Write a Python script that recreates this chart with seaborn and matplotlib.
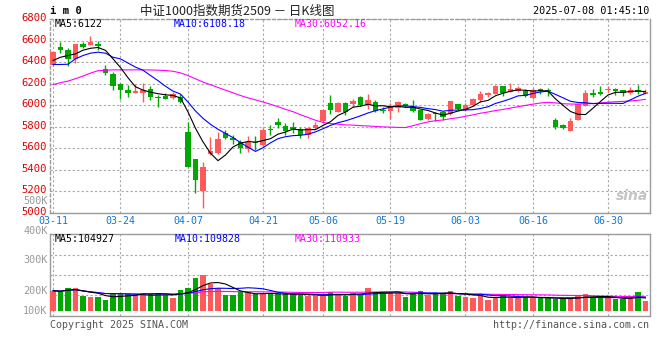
import numpy as np
import pandas as pd
import matplotlib
matplotlib.use("Agg")
import matplotlib.pyplot as plt
import matplotlib.transforms as mtransforms
import seaborn as sns

# ---------------- data ----------------
dates = ["03-11", "03-12", "03-13", "03-14", "03-17", "03-18", "03-19", "03-20", "03-21", "03-24",
         "03-25", "03-26", "03-27", "03-28", "03-31", "04-01", "04-02", "04-03", "04-07", "04-08",
         "04-09", "04-10", "04-11", "04-14", "04-15", "04-16", "04-17", "04-18", "04-21", "04-22",
         "04-23", "04-24", "04-25", "04-28", "04-29", "04-30", "05-06", "05-07", "05-08", "05-09",
         "05-12", "05-13", "05-14", "05-15", "05-16", "05-19", "05-20", "05-21", "05-22", "05-23",
         "05-26", "05-27", "05-28", "05-29", "05-30", "06-03", "06-04", "06-05", "06-06", "06-09",
         "06-10", "06-11", "06-12", "06-13", "06-16", "06-17", "06-18", "06-19", "06-20", "06-23",
         "06-24", "06-25", "06-26", "06-27", "06-30", "07-01", "07-02", "07-03", "07-04", "07-07"]

opens = [6370, 6538, 6516, 6430, 6569, 6562, 6569, 6338, 6286, 6200,
         6138, 6113, 6113, 6154, 6074, 6083, 6071, 6077, 5754, 5502,
         5201, 5545, 5558, 5739, 5700, 5662, 5592, 5660, 5631, 5772,
         5846, 5810, 5788, 5779, 5723, 5788, 5852, 6020, 5939, 6016,
         6007, 6080, 6000, 6030, 5958, 5945, 5975, 6012, 5985, 5954,
         5872, 5920, 5933, 5914, 6009, 5954, 6000, 6046, 6098, 6108,
         6178, 6123, 6132, 6129, 6065, 6142, 6136, 5862, 5816, 5760,
         5862, 5994, 6110, 6123, 6138, 6148, 6138, 6117, 6138, 6108]
highs = [6505, 6590, 6535, 6572, 6584, 6639, 6599, 6369, 6307, 6205,
         6184, 6194, 6206, 6175, 6092, 6113, 6120, 6108, 5846, 5502,
         5470, 5708, 5754, 5769, 5723, 5677, 5717, 5710, 5785, 5816,
         5877, 5831, 5840, 5800, 5800, 5840, 5960, 6092, 6030, 6030,
         6062, 6090, 6105, 6045, 5985, 6020, 6035, 6025, 6046, 5960,
         5930, 5935, 5950, 6040, 6015, 6025, 6065, 6129, 6125, 6190,
         6180, 6209, 6175, 6154, 6160, 6160, 6160, 5883, 5822, 5877,
         6015, 6140, 6154, 6175, 6180, 6162, 6140, 6170, 6191, 6150]
lows = [6360, 6482, 6365, 6390, 6532, 6560, 6514, 6277, 6138, 6062,
        6077, 6113, 6030, 6052, 5979, 6062, 6062, 6016, 5431, 5186,
        5048, 5540, 5552, 5684, 5638, 5560, 5570, 5585, 5625, 5723,
        5791, 5723, 5739, 5693, 5700, 5780, 5840, 5923, 5935, 5910,
        5985, 5995, 5965, 5935, 5930, 5870, 5940, 5980, 5940, 5860,
        5860, 5850, 5862, 5908, 5955, 5945, 5995, 6031, 6077, 6105,
        6086, 6120, 6120, 6077, 6060, 6108, 6086, 5780, 5780, 5760,
        5860, 5990, 6077, 6095, 6123, 6092, 6090, 6100, 6100, 6105]
closes = [6495, 6514, 6430, 6569, 6544, 6584, 6552, 6298, 6175, 6138,
          6113, 6132, 6145, 6077, 6068, 6062, 6101, 6030, 5431, 5308,
          5431, 5576, 5682, 5693, 5680, 5605, 5662, 5645, 5769, 5766,
          5816, 5760, 5782, 5726, 5785, 5815, 5954, 5955, 6020, 5939,
          6040, 6000, 6046, 5945, 5945, 5990, 6031, 5990, 5950, 5862,
          5923, 5914, 5892, 6037, 5963, 6000, 6055, 6101, 6105, 6178,
          6117, 6148, 6163, 6086, 6142, 6136, 6130, 5800, 5788, 5855,
          6007, 6117, 6095, 6100, 6154, 6132, 6117, 6138, 6120, 6122]
volumes_k = [164, 156, 185, 185, 123, 113, 113, 89, 137, 137,
             137, 130, 148, 137, 147, 129, 108, 170, 188, 269,
             290, 215, 188, 129, 129, 150, 150, 137, 137, 137,
             137, 137, 137, 129, 123, 123, 119, 156, 139, 121,
             143, 129, 188, 156, 143, 143, 143, 115, 147, 161,
             129, 143, 143, 161, 123, 115, 108, 123, 89, 108,
             129, 108, 108, 115, 108, 102, 102, 96, 96, 108,
             123, 137, 108, 108, 108, 96, 96, 96, 156, 81]

# moving-average values at the start of the window (carried over from before 03-11)
ma5_head = [6415, 6445, 6461, 6476]
ma10_head = [6378, 6378, 6380, 6431, 6461, 6483, 6492, 6483, 6445]
ma30_head = [6191, 6209, 6224, 6246, 6270, 6298, 6320, 6325, 6328, 6328,
             6328, 6328, 6328, 6327, 6325, 6322, 6315, 6300, 6275, 6245,
             6215, 6190, 6165, 6140, 6115, 6090, 6068, 6050, 6030]

price_ticks = [5000, 5200, 5400, 5600, 5800, 6000, 6200, 6400, 6600, 6800]
date_ticks = ["03-11", "03-24", "04-07", "04-21", "05-06", "05-19", "06-03", "06-16", "06-30"]
vol_tick_labels = ["500K", "400K", "300K", "200K", "100K"]

price_legend = ["MA5:6122", "MA10:6108.18", "MA30:6052.16"]
vol_legend = ["MA5:104927", "MA10:109828", "MA30:110933"]

# ---------------- style ----------------
sns.set_theme(style="white")
plt.rcParams["font.family"] = ["DejaVu Sans Mono", "Noto Sans CJK SC"]

W, H = 660, 360
RED = "#FF5A5A"
GREEN = "#00A800"
GRID = "#A8A8A8"
SPINE = "#9A9A9A"
MA_COLORS = ["#000000", "#0000FF", "#FF00FF"]
MA_LW = 0.8

fig = plt.figure(figsize=(W / 100, H / 100), dpi=100)
fig.patch.set_facecolor("white")


def fx(px):
    return px / W


def fy(py):
    return 1 - py / H


ax = fig.add_axes([fx(50.5), fy(213), (650 - 50.5) / W, (213 - 19) / H])
axv = fig.add_axes([fx(50.5), fy(315.5), (650 - 50.5) / W, (315.5 - 234.3) / H])

n = len(dates)
idx = np.arange(n)
o = np.array(opens, float)
h = np.array(highs, float)
l = np.array(lows, float)
c = np.array(closes, float)
up = c >= o
cols = np.where(up, RED, GREEN)

# moving averages
s = pd.Series(c)
ma5 = s.rolling(5).mean().to_numpy()
ma5[:len(ma5_head)] = ma5_head
ma10 = s.rolling(10).mean().to_numpy()
ma10[:len(ma10_head)] = ma10_head
ma30 = s.rolling(30).mean().to_numpy()
ma30[:len(ma30_head)] = ma30_head
pdf = pd.DataFrame({"idx": idx, "ma5": ma5, "ma10": ma10, "ma30": ma30})

vs = pd.Series(np.array(volumes_k, float))
vdf = pd.DataFrame({"idx": idx,
                    "ma5": vs.rolling(5, min_periods=1).mean(),
                    "ma10": vs.rolling(10, min_periods=1).mean(),
                    "ma30": vs.rolling(30, min_periods=1).mean()})

# ---------------- price panel ----------------
ax.set_facecolor("white")
ax.vlines(idx, l, h, colors=cols, lw=1.0, zorder=3)
body_h = np.maximum(np.abs(c - o), 12)
body_b = np.minimum(o, c)
ax.bar(idx, body_h, bottom=body_b, width=0.78, color=cols, linewidth=0, zorder=4)
for col, clr in zip(["ma30", "ma10", "ma5"], MA_COLORS[::-1]):
    sns.lineplot(data=pdf, x="idx", y=col, ax=ax, color=clr, lw=MA_LW, zorder=5)

x_lo, x_hi = -0.33, 79.6
ax.set_xlim(x_lo, x_hi)
ax.set_ylim(price_ticks[0], price_ticks[-1])
ax.set_yticks(price_ticks)
ax.set_yticklabels([str(t) for t in price_ticks], color="#E00000", fontsize=7.6)
tick_pos = [dates.index(d) for d in date_ticks]
ax.set_xticks(tick_pos)
ax.set_xticklabels(date_ticks, color="#1577D0", fontsize=7.2)
ax.tick_params(axis="both", length=0, pad=2.5)
ax.grid(True, color=GRID, lw=0.8, ls=(0, (2, 2)))
ax.set_xlabel("")
ax.set_ylabel("")
# price labels sit slightly above their grid lines, as in the reference
shift_up = mtransforms.ScaledTranslation(0, 2 / 100, fig.dpi_scale_trans)
for lab in ax.get_yticklabels():
    lab.set_transform(lab.get_transform() + shift_up)
for side, sp in ax.spines.items():
    sp.set_color(SPINE)
    sp.set_linewidth(1.0)
ax.spines["top"].set_linestyle((0, (2, 2)))
ax.spines["left"].set_linestyle((0, (2, 2)))

# ---------------- volume panel ----------------
axv.set_facecolor("white")
axv.bar(idx, volumes_k, width=0.72, color=cols, linewidth=0, zorder=3)
for col, clr in zip(["ma30", "ma10", "ma5"], MA_COLORS[::-1]):
    sns.lineplot(data=vdf, x="idx", y=col, ax=axv, color=clr, lw=MA_LW, zorder=5)
v_lo, v_hi = -36, 619
axv.set_xlim(x_lo, x_hi)
axv.set_ylim(v_lo, v_hi)
axv.set_yticks([v_lo + k * (v_hi - v_lo) / 4 for k in (1, 2, 3)])
axv.set_yticklabels([])
axv.set_xticks(tick_pos)
axv.set_xticklabels([])
axv.tick_params(axis="both", length=0)
axv.grid(True, color=GRID, lw=0.8, ls=(0, (2, 2)))
axv.set_xlabel("")
axv.set_ylabel("")
for side, sp in axv.spines.items():
    sp.set_color(SPINE)
    sp.set_linewidth(1.0)

# volume axis labels (placed as drawn in the reference)
for lab, py in zip(vol_tick_labels, [201.5, 230.7, 260, 290.7, 311]):
    fig.text(fx(47.5), fy(py), lab, ha="right", va="center", color="#9A9A9A", fontsize=7.3)

# ---------------- texts ----------------
fig.text(fx(50), fy(11.5), "i m 0", ha="left", va="center", fontsize=7.6, fontweight="bold", color="black")
fig.text(fx(140), fy(11.5), "中证1000指数期货2509 － 日K线图", ha="left", va="center",
         fontsize=9, color="#222222", family=["Noto Sans CJK SC", "DejaVu Sans"])
fig.text(fx(649), fy(11.5), "2025-07-08 01:45:10", ha="right", va="center", fontsize=7.3, color="black")

for txt, px, clr in zip(price_legend, [55, 174, 295], MA_COLORS):
    fig.text(fx(px), fy(24), txt, ha="left", va="center", fontsize=7.1, color=clr)
for txt, px, clr in zip(vol_legend, [55, 175, 295], MA_COLORS):
    fig.text(fx(px), fy(238.8), txt, ha="left", va="center", fontsize=7.1, color=clr)

fig.text(fx(50), fy(324.5), "Copyright 2025 SINA.COM", ha="left", va="center", fontsize=7.2, color="#555555")
fig.text(fx(649), fy(324.5), "http://finance.sina.com.cn", ha="right", va="center", fontsize=7.2, color="#555555")

# sina watermark
ax.text(0.997, 0.05, "sina", transform=ax.transAxes, ha="right", va="bottom", fontsize=10,
        fontstyle="italic", fontweight="bold", color="#C4C4C4", family="DejaVu Sans", zorder=2)

fig.savefig("out.png", dpi=100)
